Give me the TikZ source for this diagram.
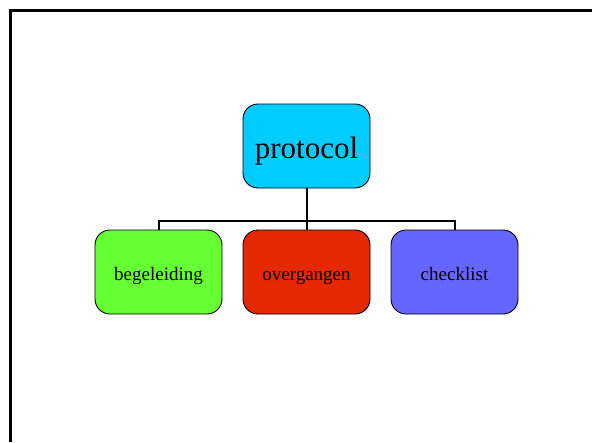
\documentclass[tikz,border=0pt]{standalone}
\usepackage{fontspec}
\setmainfont{Liberation Serif}
\begin{document}
\begin{tikzpicture}[x=1pt,y=-1pt,
  box/.style={draw=black,line width=0.9pt,rounded corners=15pt,minimum width=127pt,minimum height=84pt,inner sep=0pt},
  small/.style={font=\fontsize{19}{23}\selectfont,text height=17pt,text depth=0pt},
  conn/.style={draw=black,line width=2pt}]
\useasboundingbox (0,0) rectangle (592,442);
\fill[white] (0,0) rectangle (592,442);
\draw[line width=3pt] (10,442) -- (10,10) -- (592,10);
\node[box,fill={rgb,255:red,0;green,204;blue,255},font=\fontsize{31}{36}\selectfont,text height=24pt,text depth=0pt] (p) at (306.5,146) {protocol};
\node[box,small,fill={rgb,255:red,102;green,255;blue,51}] (b) at (158.5,272) {begeleiding};
\node[box,small,fill={rgb,255:red,230;green,40;blue,0}] (o) at (306.5,272) {overgangen};
\node[box,small,fill={rgb,255:red,102;green,102;blue,255}] (c) at (454.5,272) {checklist};
\coordinate (bus) at (306.5,221);
\draw[conn] (p.south) -- (o.north);
\draw[conn] (b.north) -- (b.north |- bus) -- (c.north |- bus) -- (c.north);
\end{tikzpicture}
\end{document}
